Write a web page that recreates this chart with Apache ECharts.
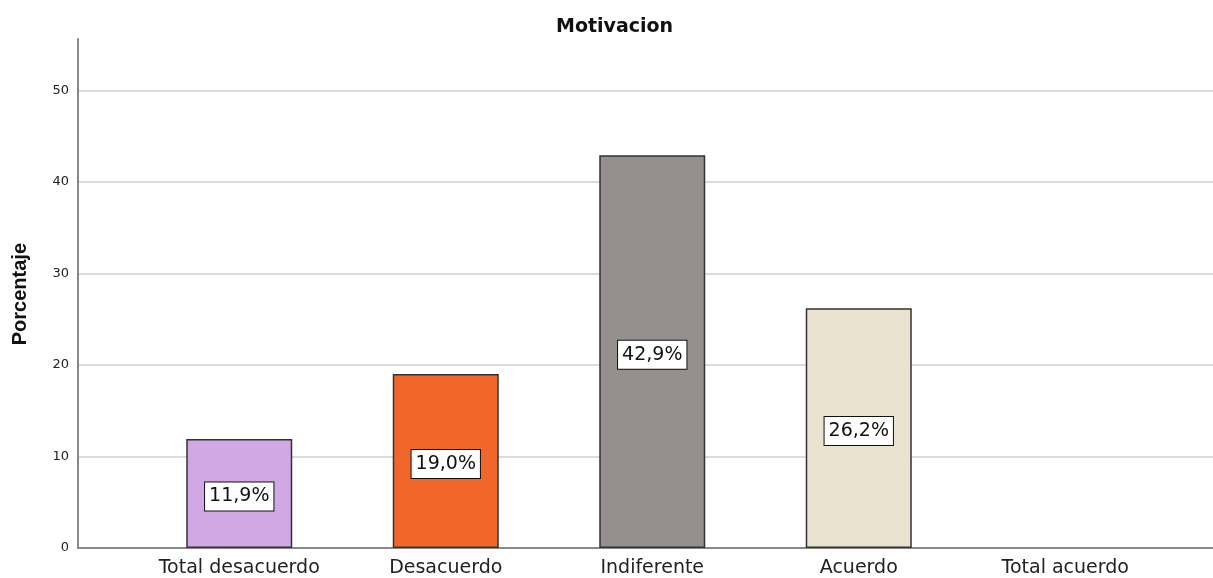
<!DOCTYPE html>
<html>
<head>
<meta charset="utf-8">
<script src="https://cdn.jsdelivr.net/npm/echarts@6/dist/echarts.min.js"></script>
<style>
    html, body { margin: 0; padding: 0; background: #fff; }
    #chart { width: 1213px; height: 578px; }
</style>
</head>
<body>
<div id="chart"></div>
<script>
const categories = ['Total desacuerdo', 'Desacuerdo', 'Indiferente', 'Acuerdo', 'Total acuerdo'];
const percentages = [11.9, 19.0, 42.9, 26.2, null];
const barColors = ['#D1A8E3', '#F0662B', '#958F8E', '#EAE3CF', '#cccccc'];
const yTicks = { min: 0, max: 55.6, interval: 10 };

const font = 'DejaVu Sans';

function getOption() {
    let option = {
        animation: false,
        backgroundColor: '#ffffff',
        title: {
            text: 'Motivacion',
            left: 551,
            top: 13,
            textStyle: {
                fontFamily: font,
                fontSize: 19,
                fontWeight: 'bold',
                color: '#111'
            }
        },
        graphic: [{
            type: 'text',
            left: 10,
            top: 243,
            rotation: Math.PI / 2,
            style: {
                text: 'Porcentaje',
                font: 'bold 20px "Liberation Sans Narrow", "Liberation Sans", sans-serif',
                fill: '#111'
            }
        }],
        grid: [
            { left: 78, right: 0, top: 39, bottom: 30 },
            { left: 136, right: 44.5, top: 39, bottom: 30 }
        ],
        xAxis: [{
            gridIndex: 0,
            type: 'value',
            min: 0,
            max: 1,
            axisLabel: { show: false },
            axisTick: { show: false },
            splitLine: { show: false },
            axisLine: { show: true, lineStyle: { color: '#888', width: 2 } }
        }, {
            gridIndex: 1,
            type: 'category',
            data: categories,
            boundaryGap: true,
            axisLine: { show: false },
            axisTick: { show: false },
            axisLabel: {
                interval: 0,
                hideOverlap: false,
                fontFamily: font,
                fontSize: 19,
                color: '#222',
                margin: 11
            }
        }],
        yAxis: [{
            gridIndex: 0,
            type: 'value',
            min: yTicks.min,
            max: yTicks.max,
            interval: yTicks.interval,
            axisLine: { show: true, lineStyle: { color: '#888', width: 2 } },
            axisTick: { show: false },
            axisLabel: {
                fontFamily: font,
                fontSize: 13,
                color: '#222',
                margin: 9,
                showMaxLabel: false
            },
            splitLine: {
                show: true,
                showMinLine: false,
                showMaxLine: false,
                lineStyle: { color: '#cfcfcf', width: 1.5 }
            }
        }, {
            gridIndex: 1,
            type: 'value',
            min: yTicks.min,
            max: yTicks.max,
            show: false
        }],
        series: [{
            type: 'bar',
            xAxisIndex: 1,
            yAxisIndex: 1,
            barWidth: 106,
            data: percentages.map((v, i) => ({
                value: v,
                itemStyle: {
                    color: barColors[i],
                    borderColor: '#333',
                    borderWidth: 1.5
                }
            })),
            label: {
                show: true,
                position: 'inside',
                offset: [0, 3],
                formatter: p => p.value.toFixed(1).replace('.', ',') + '%',
                fontFamily: font,
                fontSize: 19,
                color: '#111',
                backgroundColor: '#fff',
                borderColor: '#111',
                borderWidth: 1,
                padding: [5, 4, 4, 4]
            }
        }]
    };
    return option;
}

let myChart = echarts.init(document.getElementById('chart'));
myChart.setOption(getOption());
</script>
</body>
</html>
